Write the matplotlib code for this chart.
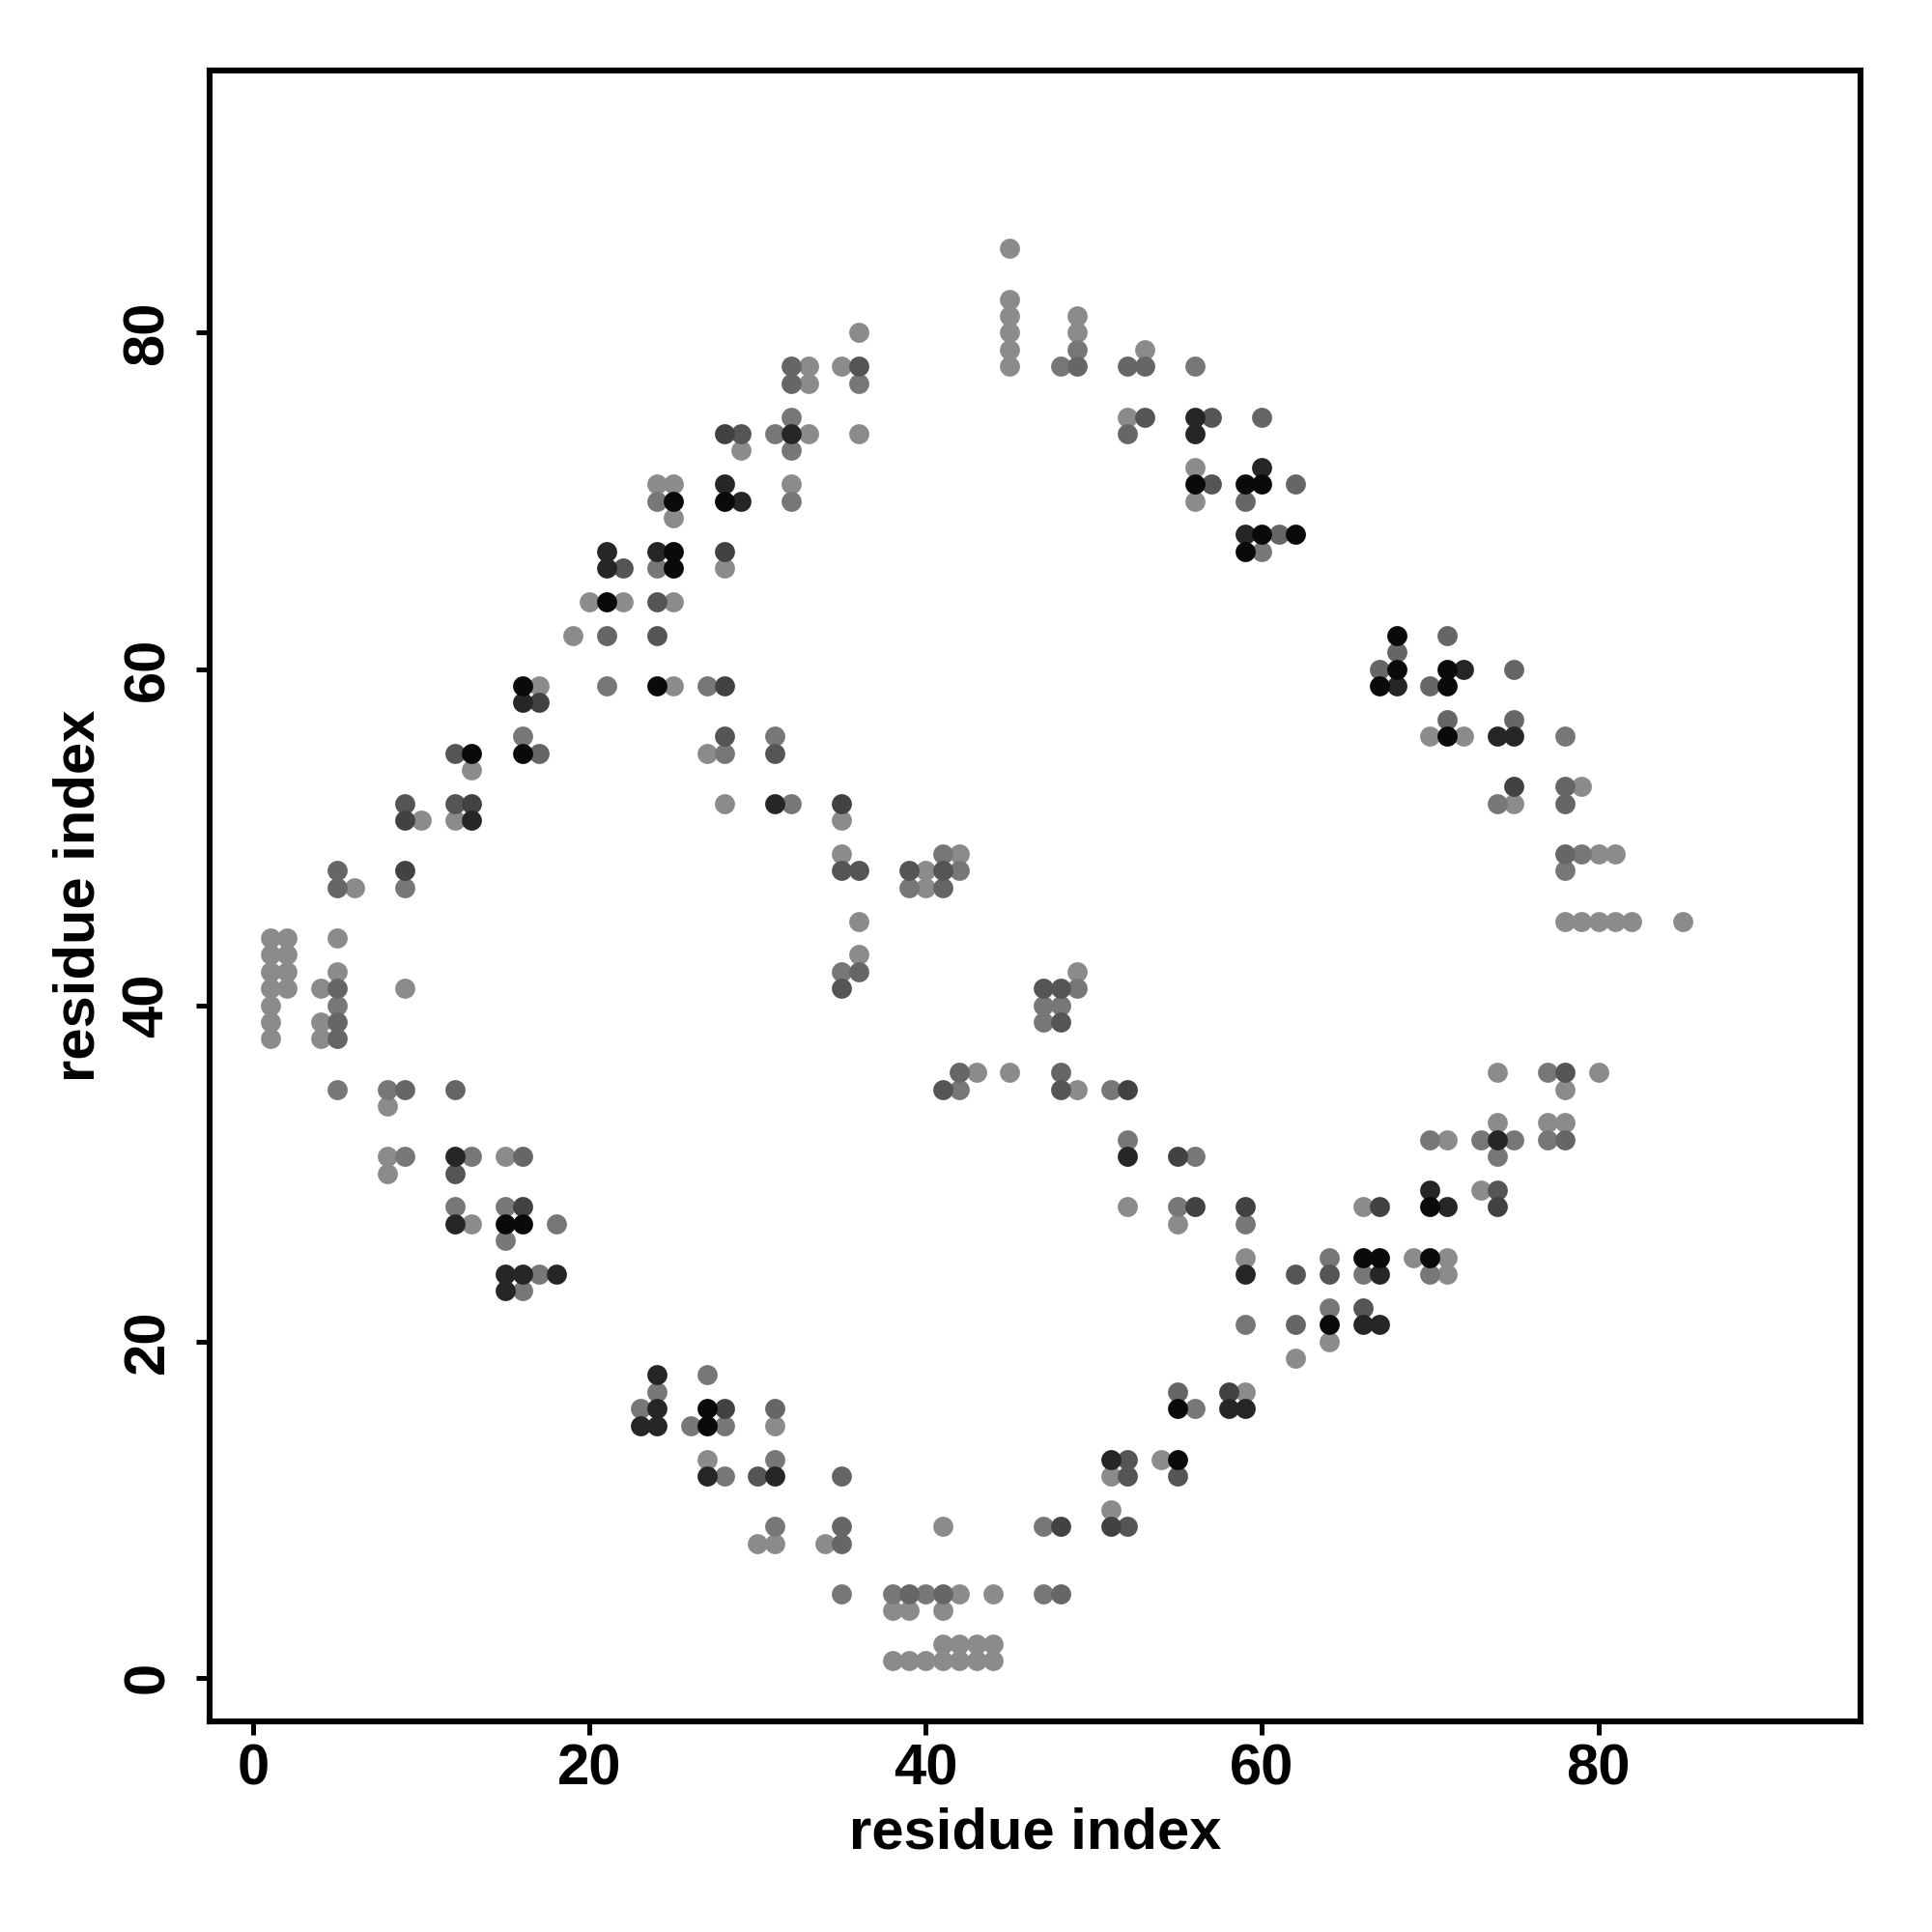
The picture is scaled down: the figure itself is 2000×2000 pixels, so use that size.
import matplotlib
matplotlib.use("Agg")
import matplotlib.pyplot as plt

# contact map points (residue i, residue j), grouped by grey level
black = [(25, 70), (28, 70), (25, 67), (25, 66), (21, 64), (16, 59), (24, 59), (13, 55), (16, 55),
         (15, 27), (16, 27), (27, 16), (27, 15), (56, 71), (59, 71), (60, 71), (60, 68), (62, 68),
         (59, 67), (68, 62), (68, 60), (71, 60), (67, 59), (71, 59), (71, 56), (70, 28), (66, 25),
         (67, 25), (70, 25), (64, 21), (55, 13), (55, 16)]
very_dark = [(28, 71), (29, 70), (21, 67), (21, 66), (24, 67), (16, 58), (13, 51), (12, 31), (12, 27),
             (15, 24), (16, 24), (18, 24), (15, 23), (24, 18), (24, 16), (23, 15), (24, 15), (27, 12),
             (32, 74), (56, 75), (56, 74), (60, 72), (59, 68), (31, 52), (52, 31), (72, 60), (68, 59),
             (74, 56), (75, 56), (74, 32), (70, 29), (71, 28), (59, 24), (67, 24), (66, 21), (67, 21),
             (58, 16), (59, 16), (31, 12), (51, 13)]
darker = [(28, 74), (28, 67), (17, 58), (28, 59), (13, 52), (9, 51), (9, 48), (16, 28), (28, 16),
          (35, 52), (52, 35), (55, 31), (56, 28), (75, 53), (74, 28), (59, 28), (67, 28), (58, 17),
          (48, 9), (51, 9)]
dark = [(29, 74), (22, 66), (24, 64), (24, 62), (28, 56), (12, 55), (9, 52), (12, 52), (12, 30),
        (36, 78), (53, 75), (57, 75), (57, 71), (31, 55), (35, 48), (36, 48), (39, 48), (41, 48),
        (35, 41), (47, 41), (48, 41), (48, 39), (41, 35), (48, 35), (78, 36), (74, 29), (62, 24),
        (64, 24), (66, 22), (30, 12), (52, 9), (52, 13), (52, 12), (55, 12)]
mid_dark = [(21, 62), (17, 55), (5, 48), (5, 47), (5, 41), (5, 39), (5, 38), (9, 35), (12, 35),
            (16, 31), (49, 78), (52, 78), (53, 78), (32, 78), (32, 77), (52, 74), (60, 75), (62, 71),
            (59, 70), (61, 68), (41, 47), (36, 42), (42, 36), (48, 36), (71, 62), (68, 61), (67, 60),
            (75, 60), (70, 59), (71, 57), (75, 57), (78, 53), (78, 52), (78, 49), (78, 32), (62, 21),
            (31, 16), (35, 12), (35, 9), (35, 8), (39, 5), (41, 5), (48, 5), (55, 17)]
mid = [(24, 70), (24, 66), (21, 59), (27, 59), (16, 56), (28, 55), (9, 47), (5, 40), (5, 35), (8, 35),
       (9, 31), (13, 31), (12, 28), (15, 28), (18, 27), (15, 26), (17, 24), (16, 23), (27, 18),
       (24, 17), (23, 16), (26, 15), (28, 15), (28, 12), (49, 79), (48, 78), (56, 78), (31, 74),
       (32, 75), (32, 73), (36, 77), (32, 70), (60, 67), (31, 56), (32, 52), (42, 48), (41, 49),
       (39, 47), (35, 42), (49, 41), (47, 40), (48, 40), (47, 39), (42, 35), (51, 35), (52, 32),
       (56, 31), (55, 28), (78, 56), (74, 52), (79, 49), (78, 48), (77, 36), (70, 32), (73, 32),
       (75, 32), (77, 32), (74, 31), (59, 27), (64, 25), (66, 24), (70, 24), (59, 21), (64, 22),
       (31, 13), (31, 9), (47, 9), (35, 5), (38, 5), (40, 5), (47, 5), (56, 16)]
light = [(29, 73), (24, 71), (25, 71), (25, 69), (28, 66), (20, 64), (22, 64), (25, 64), (19, 62),
         (17, 59), (25, 59), (27, 55), (13, 54), (28, 52), (10, 51), (12, 51), (6, 47),
         (1, 44), (2, 44), (5, 44), (1, 43), (2, 43), (1, 42), (2, 42), (5, 42), (1, 41), (2, 41),
         (4, 41), (9, 41), (1, 40), (1, 39), (4, 39), (1, 38), (4, 38), (8, 34), (8, 31), (15, 31),
         (8, 30), (13, 27), (27, 13), (45, 85), (45, 82), (45, 81), (45, 80), (45, 79), (45, 78),
         (49, 81), (49, 80), (53, 79), (33, 74), (33, 78), (33, 77), (35, 78), (36, 80), (36, 74),
         (32, 71), (52, 75), (56, 72), (56, 70), (35, 51), (35, 49), (40, 48), (42, 49), (40, 47),
         (36, 45), (36, 43), (49, 42), (43, 36), (45, 36), (49, 35), (52, 28), (55, 27), (70, 56),
         (72, 56), (75, 52), (79, 53), (80, 49), (81, 49), (78, 45), (79, 45), (80, 45), (81, 45),
         (82, 45), (85, 45), (74, 36), (80, 36), (78, 35), (74, 33), (77, 33), (78, 33), (71, 32),
         (73, 29), (66, 28), (59, 25), (69, 25), (71, 25), (71, 24), (64, 20), (62, 19), (59, 17),
         (31, 15), (30, 8), (31, 8), (34, 8), (41, 9), (51, 10), (51, 12), (54, 13), (42, 5), (44, 5),
         (38, 4), (39, 4), (41, 4), (41, 2), (42, 2), (43, 2), (44, 2), (38, 1), (39, 1), (40, 1),
         (41, 1), (42, 1), (43, 1), (44, 1)]

groups = [(light, '#8b8b8b'), (mid, '#777777'), (mid_dark, '#666666'), (dark, '#555555'),
          (darker, '#424242'), (very_dark, '#262626'), (black, '#0a0a0a')]
ticks = [0, 20, 40, 60, 80]

plt.rcParams['font.family'] = ['Liberation Sans', 'DejaVu Sans']
plt.rcParams['font.weight'] = 'bold'

fig = plt.figure(figsize=(10, 10), dpi=200)
ax = fig.add_axes([0.1085, 0.109, 0.8545, 0.8545])

for pts, col in groups:
    xs = [p[0] for p in pts]
    ys = [p[1] for p in pts]
    ax.scatter(xs, ys, s=56, c=col, linewidths=0, zorder=3)

ax.set_xlim(-2.6, 95.6)
ax.set_ylim(-2.6, 95.6)
ax.set_xticks(ticks)
ax.set_yticks(ticks)
ax.set_xticklabels([str(t) for t in ticks], fontsize=21.5, fontweight='bold')
ax.set_yticklabels([str(t) for t in ticks], fontsize=21.5, fontweight='bold',
                   rotation=90, va='center')
ax.tick_params(axis='x', length=5, width=1.8, pad=3)
ax.tick_params(axis='y', length=5, width=1.8, pad=8)
for sp in ax.spines.values():
    sp.set_linewidth(2.2)

ax.set_xlabel('residue index', fontsize=21.5, fontweight='bold', labelpad=4)
ax.set_ylabel('residue index', fontsize=21.5, fontweight='bold', labelpad=6)

fig.savefig('out.png', dpi=200)
